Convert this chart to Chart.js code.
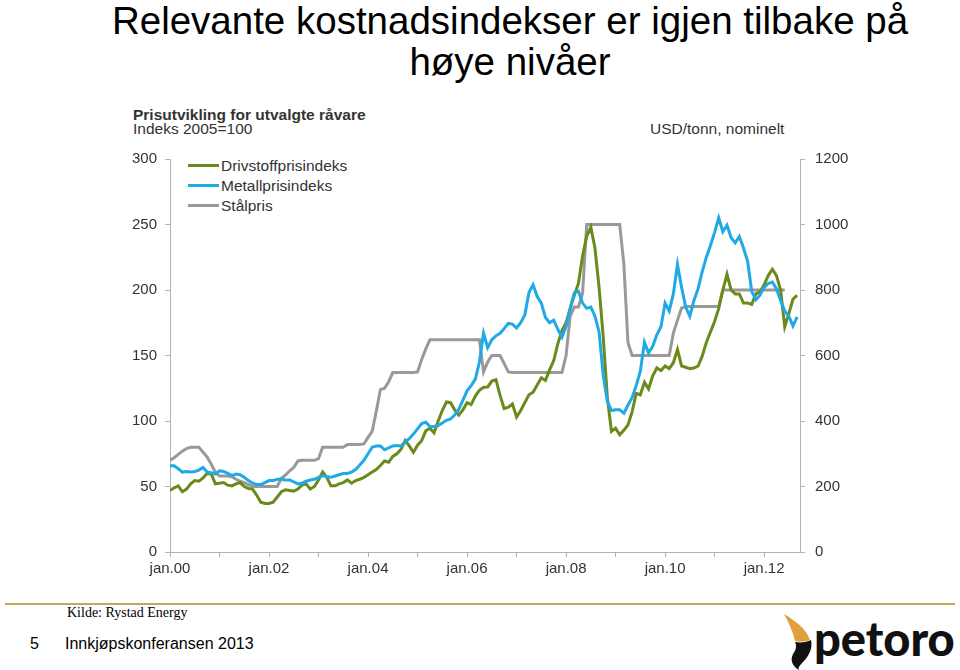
<!DOCTYPE html>
<html>
<head>
<meta charset="utf-8">
<script src="https://cdn.jsdelivr.net/npm/chart.js@4.4.1/dist/chart.umd.min.js"></script>
<style>
  body { margin: 0; background: #fff; width: 960px; height: 670px; position: relative; overflow: hidden; font-family: "Liberation Sans", Arial, sans-serif; }
  .abs { position: absolute; }
  #title { left: 60px; top: 0px; width: 900px; text-align: center; font-size: 38.5px; line-height: 41px; color: #000; }
  #sub1 { left: 133px; top: 106px; font-size: 15.5px; font-weight: bold; color: #333; }
  #sub2 { left: 133px; top: 120px; font-size: 15.5px; color: #333; }
  #unit { left: 650px; top: 120px; font-size: 15.5px; color: #333; }
  .leg { left: 188px; font-size: 15.5px; color: #333; height: 16px; line-height: 16px; }
  .leg span { display: inline-block; width: 31px; height: 3px; vertical-align: middle; margin-right: 2px; margin-top: -2px; }
  #chartbox { left: 120px; top: 140px; width: 760px; height: 450px; }
  #rule { left: 5px; top: 603px; width: 950px; height: 2px; background: #c9a55c; }
  #kilde { left: 67px; top: 605px; font-family: "Liberation Serif", "Times New Roman", serif; font-size: 14px; color: #000; }
  #pnum { left: 30px; top: 635px; font-size: 16px; color: #000; }
  #conf { left: 65px; top: 635px; font-size: 16px; color: #000; }
  #logo { left: 780px; top: 612px; }
</style>
</head>
<body>
<div id="title" class="abs">Relevante kostnadsindekser er igjen tilbake på<br>høye nivåer</div>
<div id="sub1" class="abs">Prisutvikling for utvalgte råvare</div>
<div id="sub2" class="abs">Indeks 2005=100</div>
<div id="unit" class="abs">USD/tonn, nominelt</div>
<div class="abs leg" style="top:158px"><span style="background:#6b8a1c"></span>Drivstoffprisindeks</div>
<div class="abs leg" style="top:178px"><span style="background:#1fa9e5"></span>Metallprisindeks</div>
<div class="abs leg" style="top:198px"><span style="background:#999999"></span>Stålpris</div>
<div id="chartbox" class="abs"><canvas id="myChart"></canvas></div>
<div id="rule" class="abs"></div>
<div id="kilde" class="abs">Kilde: Rystad Energy</div>
<div id="pnum" class="abs">5</div>
<div id="conf" class="abs">Innkjøpskonferansen 2013</div>
<svg id="logo" class="abs" width="180" height="58" viewBox="0 0 180 58">
  <path d="M4 2 C14 8 26 16 30 28 C25 30 20 30 15 29 C13 20 9 11 4 2 Z" fill="#e0a13c"/>
  <path d="M15 30 C22 31 27 30 31 28 C33 36 29 44 23 50 C19 54 18 56 19 58 C12 54 10 48 13 42 C16 38 17 34 15 30 Z" fill="#111"/>
  <text x="34" y="44" font-family="Lato, 'Open Sans', sans-serif" font-weight="900" font-size="47" fill="#111">petoro</text>
</svg>

<script>
var startYear = 2000; // jan.00 = maaned 0, en verdi per maaned
// Drivstoffprisindeks, indeks 2005=100, jan.00 - sep.12
var drivstoff = [47,49,50.5,46,48,52,54.5,54,56.5,60,59.5,52,
  52.5,53,51,50.5,52,53,50,48.5,48,43.5,38,37,
  37,38,42,46,47.5,47,46.5,48,51,52,48,50,
  55,61,57,50.5,50.5,52,53,55,52.5,54.5,55.5,57,
  59,61,63,66,69.5,68.5,73,75,78.5,85,81,76,
  81.5,85,92.5,94.5,91,100,108,114.5,114,108.5,104.5,108.5,
  114,112.5,119,123.5,125.8,126,130.5,131.5,119.5,109.5,110.5,113,
  103,108,114,120,122,127.5,133,131,139,146,159,169,
  175,186,196,205,226,241,248,232,202,164.5,118,92,
  94.5,89.5,93,97,107,121,120,129.5,124.5,134.5,140.5,138.5,
  142,140,144.5,154.5,142,141,140,140.5,142,149.5,160,168,
  176,186,200,212,200,197,197,190,190,189,197,198.5,
  204,211,215.8,211,200,172,182,193,196];
// Metallprisindeks, indeks 2005=100
var metall = [65.8,65.8,63.5,61,61.5,61,61.5,62.5,64.5,61,60.5,59.5,
  62,61.5,60,58.3,59.5,59,57,54.5,52.5,51.5,51.5,53,
  54.5,54.5,55.5,55.5,55,55,53.5,52,52.5,54,55,55.5,
  57,58.3,57.5,57,58,59,60,60,61,63,66.5,70,
  75,80,81,81,78,79.5,81,81.3,81,84,86.5,90,
  94,98,99,95.8,95.8,96.5,98.5,100.5,101.5,104.5,109,116,
  123,127,132,145,167,156,162,165,167,170.5,174.5,174,
  171,175,181,198,204,195,190,179,175,177,170,164,
  172,186,198,199,190,186,187,180,168,135,115,108,
  108.5,108.5,106,112,118,127,138,160,152,157,165.8,172,
  190,184,197,219.5,202,187,180,192,201,214,225,234,
  244,255,244.5,249.5,240,236,240.8,232,222,199,192.5,196,
  202,205,206,201,192,184,180,172.5,179.5];
// Staalpris, USD/tonn nominelt (hoeyre akse)
var stal = [280,288,298,308,316,320,320,320,305,290,268,243,
  232,232,232,230,222,216,212,206,200,200,200,200,
  200,200,200,225,235,248,258,278,280,280,280,280,
  285,320,320,320,320,320,320,328,328,328,328,330,
  350,368,430,496,500,520,548,548,548,548,548,548,
  550,588,620,648,648,648,648,648,648,648,648,648,
  648,648,648,648,550,580,600,600,600,575,550,548,
  548,548,548,548,548,548,548,548,548,548,548,548,
  600,720,748,748,790,1000,1000,1000,1000,1000,1000,1000,
  1000,1000,880,640,600,600,600,600,600,600,600,600,
  600,600,668,708,745,750,750,750,750,750,750,750,
  750,750,800,800,800,800,800,800,800,800,800,800,
  800,800,800,800,800,800];
var yTicksLeft = [0, 50, 100, 150, 200, 250, 300];
var yTicksRight = [0, 200, 400, 600, 800, 1000, 1200];

var axisColor = '#b3b3b3';
Chart.defaults.font.family = '"Liberation Sans", Arial, sans-serif';
Chart.defaults.font.size = 15;
Chart.defaults.color = '#333';

function toPoints(arr) {
  return arr.map(function (v, i) { return { x: i, y: v }; });
}

var ctx = document.getElementById("myChart");
var myChart = new Chart(ctx, {
  type: 'line',
  data: {
    datasets: [{
      label: 'Metallprisindeks',
      data: toPoints(metall),
      borderColor: '#1fa9e5',
      borderWidth: 3,
      pointRadius: 0,
      yAxisID: 'y',
      order: 1
    }, {
      label: 'Drivstoffprisindeks',
      data: toPoints(drivstoff),
      borderColor: '#6b8a1c',
      borderWidth: 3,
      pointRadius: 0,
      yAxisID: 'y',
      order: 2
    }, {
      label: 'Stålpris',
      data: toPoints(stal),
      borderColor: '#999999',
      borderWidth: 3,
      pointRadius: 0,
      yAxisID: 'y2',
      order: 3
    }]
  },
  options: {
    responsive: true,
    maintainAspectRatio: false,
    animation: false,
    layout: { padding: { top: 13, left: 0, right: 0, bottom: 0 } },
    plugins: { legend: { display: false }, tooltip: { enabled: false } },
    scales: {
      x: {
        type: 'linear',
        min: 0,
        max: 152.7,
        afterBuildTicks: function (scale) {
          var t = [];
          for (var m = 0; m <= 144; m += 12) t.push({ value: m });
          scale.ticks = t;
        },
        afterFit: function (scale) { scale.height = 38; },
        ticks: {
          autoSkip: false,
          maxRotation: 0,
          padding: 3,
          callback: function (v) {
            var yr = startYear + v / 12;
            if (yr % 2 !== 0) return '';
            return 'jan.' + String(yr % 100).padStart(2, '0');
          }
        },
        grid: { drawOnChartArea: false, tickLength: 5, color: axisColor },
        border: { display: true, color: axisColor }
      },
      y: {
        position: 'left',
        min: 0,
        max: 300,
        afterBuildTicks: function (scale) {
          scale.ticks = yTicksLeft.map(function (v) { return { value: v }; });
        },
        afterFit: function (scale) { scale.width = 50; },
        ticks: { padding: 8, callback: function (v) { return String(v); } },
        grid: { drawOnChartArea: false, tickLength: 5, color: axisColor },
        border: { display: true, color: axisColor }
      },
      y2: {
        position: 'right',
        min: 0,
        max: 1200,
        afterBuildTicks: function (scale) {
          scale.ticks = yTicksRight.map(function (v) { return { value: v }; });
        },
        afterFit: function (scale) { scale.width = 80; },
        ticks: { padding: 10, callback: function (v) { return String(v); } },
        grid: { drawOnChartArea: false, tickLength: 5, color: axisColor },
        border: { display: true, color: axisColor }
      }
    }
  }
});
</script>
</body>
</html>
